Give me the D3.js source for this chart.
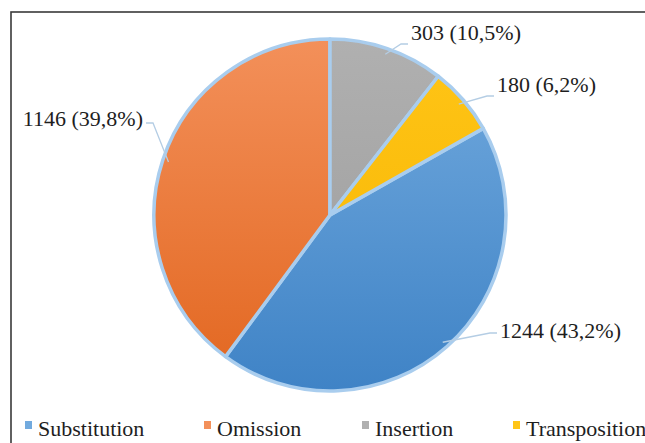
<!DOCTYPE html>
<html>
<head>
<meta charset="utf-8">
<script src="https://cdn.jsdelivr.net/npm/d3@7"></script>
<style>
  body { margin: 0; background: #fff; }
  svg { display: block; }
</style>
</head>
<body>
<script>
// data
const categories = ["Substitution", "Omission", "Insertion", "Transposition"];
const counts = [1244, 1146, 303, 180];
const labels = ["1244 (43,2%)", "1146 (39,8%)", "303 (10,5%)", "180 (6,2%)"];

const colorsTop = ["#72aade", "#f3905a", "#b0b0b0", "#ffc517"];
const colorsBot = ["#3f83c6", "#e2661f", "#9a9a9a", "#f6b400"];

// label text anchors (x, baseline) and which side they sit on
const labelPos = [[500, 338, "start"], [143, 126, "end"], [411, 40, "start"], [497, 92, "start"]];

const width = 645, height = 443;
const cx = 330, cy = 215, R = 176;
const fontFam = "Liberation Serif";

const svg = d3.select("body").append("svg")
  .attr("width", width)
  .attr("height", height);

// chart frame (runs off the right and bottom edge)
svg.append("rect")
  .attr("x", 11).attr("y", 12)
  .attr("width", 700).attr("height", 500)
  .attr("fill", "none")
  .attr("stroke", "#3a3a3a")
  .attr("stroke-width", 1.6);

const defs = svg.append("defs");
categories.forEach((c, i) => {
  const g = defs.append("linearGradient")
    .attr("id", "grad" + i)
    .attr("gradientUnits", "userSpaceOnUse")
    .attr("x1", 0).attr("y1", -R)
    .attr("x2", 0).attr("y2", R);
  g.append("stop").attr("offset", "0%").attr("stop-color", colorsTop[i]);
  g.append("stop").attr("offset", "100%").attr("stop-color", colorsBot[i]);
});

// Insertion sits at 12 o'clock, so the first slice starts after Insertion + Transposition
const total = d3.sum(counts);
const start = (counts[2] + counts[3]) / total * 2 * Math.PI;

const pie = d3.pie().sort(null).startAngle(start).endAngle(start + 2 * Math.PI);
const arcs = pie(counts);

const arc = d3.arc().innerRadius(0).outerRadius(R);

const g = svg.append("g").attr("transform", `translate(${cx},${cy})`);

g.selectAll("path.slice")
  .data(arcs)
  .join("path")
  .attr("class", "slice")
  .attr("d", arc)
  .attr("fill", (d, i) => `url(#grad${i})`)
  .attr("stroke", "#a9cdee")
  .attr("stroke-width", 3.5)
  .attr("stroke-linejoin", "round");

// leader lines
const pointOn = (a, r) => [Math.sin(a) * r, -Math.cos(a) * r];

arcs.forEach((d, i) => {
  const mid = (d.startAngle + d.endAngle) / 2;
  const [px, py] = pointOn(mid, R - 6);
  const [lx, ly, anchor] = labelPos[i];
  const side = anchor === "start" ? 1 : -1;
  const endY = i === 0 ? ly - 5 : (i === 1 ? ly - 3 : ly + 4);
  const ex = lx - cx - side * 3;
  const ey = endY - cy;
  const pts = [[px, py], [ex - side * 7, ey], [ex, ey]];
  g.append("path")
    .attr("d", d3.line()(pts))
    .attr("fill", "none")
    .attr("stroke", "#b4cde4")
    .attr("stroke-width", 1.3);
});

svg.selectAll("text.lbl")
  .data(labels)
  .join("text")
  .attr("class", "lbl")
  .attr("x", (d, i) => labelPos[i][0])
  .attr("y", (d, i) => labelPos[i][1])
  .attr("text-anchor", (d, i) => labelPos[i][2])
  .style("font-family", fontFam)
  .attr("font-size", 22)
  .attr("fill", "#1e1e1e")
  .text(d => d);

// legend
const legendX = [25, 204, 362, 513];
const leg = svg.selectAll("g.leg")
  .data(categories)
  .join("g")
  .attr("class", "leg")
  .attr("transform", (d, i) => `translate(${legendX[i]},421)`);

leg.append("rect")
  .attr("width", 7).attr("height", 8)
  .attr("fill", (d, i) => colorsTop[i]);

leg.append("text")
  .attr("x", 13).attr("y", 15)
  .style("font-family", fontFam)
  .attr("font-size", 22)
  .attr("fill", "#1e1e1e")
  .text(d => d);
</script>
</body>
</html>
